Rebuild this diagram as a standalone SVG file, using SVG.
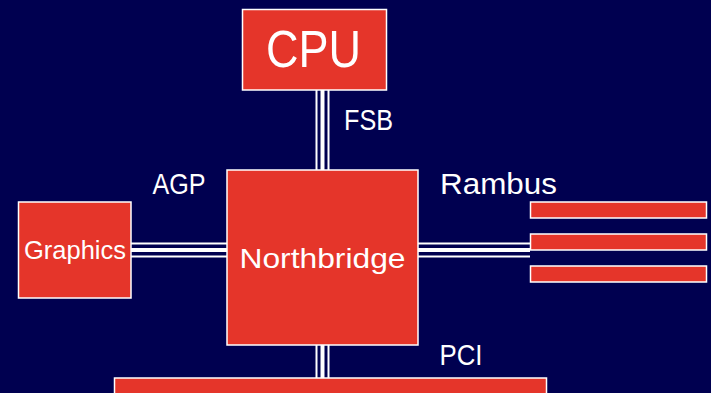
<svg xmlns="http://www.w3.org/2000/svg" width="711" height="393" viewBox="0 0 711 393">
  <style>
    .box { fill: #e5352a; stroke: #ffffff; stroke-width: 1.5; }
    .lbl { fill: #ffffff; font-family: "Liberation Sans", Arial, sans-serif; }
    .thin { stroke: #ffffff; stroke-width: 2; fill: none; }
    .thick { stroke: #ffffff; stroke-width: 4; fill: none; }
  </style>
  <rect x="0" y="0" width="711" height="393" fill="#000050"/>

  <g id="connectors">
    <g id="fsb">
      <line class="thin" x1="316.5" y1="90" x2="316.5" y2="170"/>
      <line class="thick" x1="322.5" y1="90" x2="322.5" y2="170"/>
      <line class="thin" x1="328.5" y1="90" x2="328.5" y2="170"/>
    </g>
    <g id="pci-bus">
      <line class="thin" x1="316.5" y1="345" x2="316.5" y2="378"/>
      <line class="thick" x1="322.5" y1="345" x2="322.5" y2="378"/>
      <line class="thin" x1="328.5" y1="345" x2="328.5" y2="378"/>
    </g>
    <g id="agp">
      <line class="thin" x1="131" y1="243.5" x2="227" y2="243.5"/>
      <line class="thick" x1="131" y1="250" x2="227" y2="250"/>
      <line class="thin" x1="131" y1="256.5" x2="227" y2="256.5"/>
    </g>
    <g id="rambus">
      <line class="thin" x1="418" y1="243.5" x2="530" y2="243.5"/>
      <line class="thick" x1="418" y1="250" x2="530" y2="250"/>
      <line class="thin" x1="418" y1="256.5" x2="530" y2="256.5"/>
    </g>
  </g>

  <g id="cpu">
    <rect class="box" x="242.5" y="9.5" width="144" height="80.5"/>
    <text class="lbl" x="266" y="67" font-size="52" textLength="95" lengthAdjust="spacingAndGlyphs">CPU</text>
  </g>
  <g id="northbridge">
    <rect class="box" x="227" y="170" width="191" height="175"/>
    <text class="lbl" x="239.5" y="267.5" font-size="28" textLength="166" lengthAdjust="spacingAndGlyphs">Northbridge</text>
  </g>
  <g id="graphics">
    <rect class="box" x="18.5" y="202" width="112.5" height="96"/>
    <text class="lbl" x="24" y="258.5" font-size="26" textLength="102" lengthAdjust="spacingAndGlyphs">Graphics</text>
  </g>
  <g id="memory">
    <rect class="box" x="530.5" y="202" width="176" height="16"/>
    <rect class="box" x="530.5" y="234" width="176" height="16"/>
    <rect class="box" x="530.5" y="266" width="176" height="16"/>
  </g>
  <g id="pci">
    <rect class="box" x="114.5" y="378" width="432" height="30"/>
  </g>

  <g id="labels">
    <text class="lbl" x="344" y="129.5" font-size="30" textLength="49" lengthAdjust="spacingAndGlyphs">FSB</text>
    <text class="lbl" x="152.5" y="193.5" font-size="30" textLength="53" lengthAdjust="spacingAndGlyphs">AGP</text>
    <text class="lbl" x="440" y="194" font-size="30" textLength="117" lengthAdjust="spacingAndGlyphs">Rambus</text>
    <text class="lbl" x="439.5" y="365" font-size="30" textLength="43" lengthAdjust="spacingAndGlyphs">PCI</text>
  </g>
</svg>
